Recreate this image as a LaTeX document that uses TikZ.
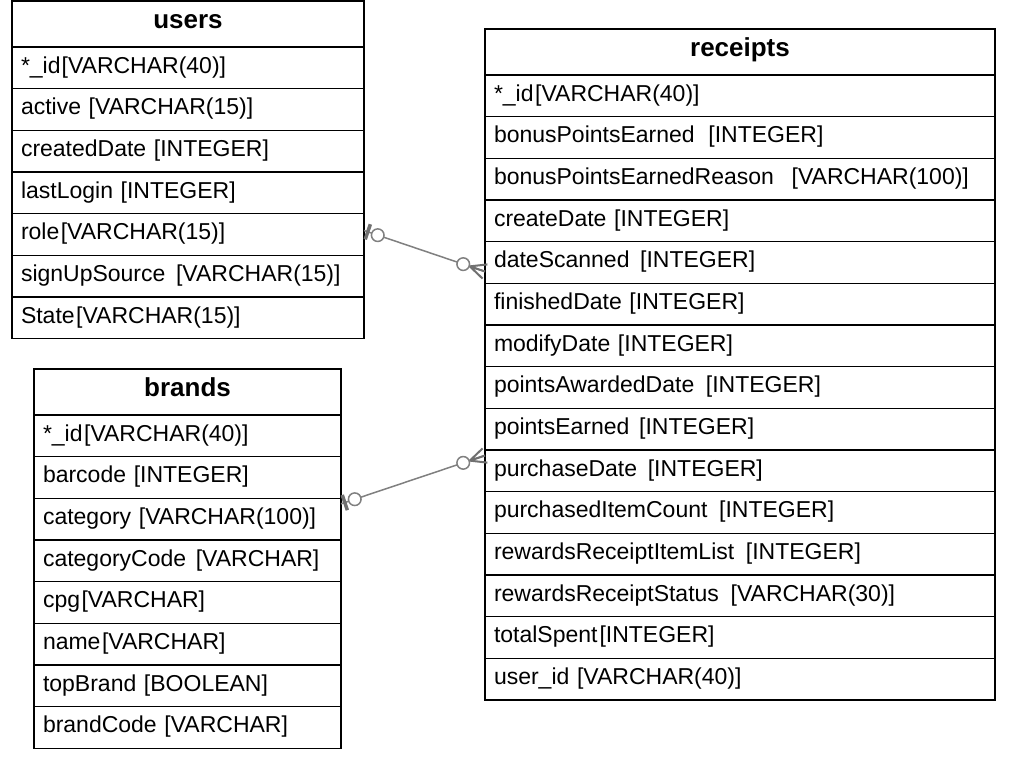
\documentclass[tikz,border=0pt]{standalone}
\usepackage{fontspec}
\setmainfont{Liberation Sans}
\usetikzlibrary{calc}
\definecolor{linkgray}{HTML}{808080}
\definecolor{bargray}{HTML}{707070}
\newcommand{\rowfnt}{\fontsize{23}{27}\selectfont}
\newcommand{\hdfnt}{\fontsize{26}{30}\selectfont\bfseries}
\newcommand{\gp}[1]{\hspace{#1pt}}
\newcommand{\erone}[2]{%
  \coordinate (tmpm) at ($(#1)!4pt!(#2)$);
  \draw[erbar] ($(tmpm)!8pt!90:(#2)$) -- ($(tmpm)!8pt!-90:(#2)$);
  \draw[conn, fill=white] ($(#1)!14.5pt!(#2)$) circle (6.3pt);}
\newcommand{\ermany}[2]{%
  \coordinate (tmpa) at ($(#1)!16pt!(#2)$);
  \draw[crow] (tmpa) -- ($(#1)!7.5pt!90:(#2)$) (tmpa) -- (#1) (tmpa) -- ($(#1)!7.5pt!-90:(#2)$);
  \draw[conn, fill=white] ($(#1)!23pt!(#2)$) circle (6.3pt);}
\begin{document}
\begin{tikzpicture}[x=1pt,y=-1pt,
  tbl/.style={draw=black, line width=1.5pt, outer sep=0pt, anchor=north west, inner xsep=9pt, inner ysep=0pt},
  hdr/.style={tbl, minimum height=46pt, text height=18pt, text depth=9pt, font=\hdfnt, align=center},
  fld/.style={tbl, minimum height=41.67pt, text height=16.5pt, text depth=6pt, font=\rowfnt, align=left},
  uw/.style={text width=334pt},
  bw/.style={text width=289pt},
  rw/.style={text width=492pt},
  conn/.style={draw=linkgray, line width=1.5pt},
  crow/.style={draw=bargray, line width=2pt},
  erbar/.style={draw=bargray, line width=3.5pt}]
\fill[white] (0,0) rectangle (1015,757);
\useasboundingbox (0,0) rectangle (1015,757);
% users
\node[hdr, uw] (users) at (12,1) {users};
\node[fld, uw] (u1) at (users.south west) {*\_id\gp{1}[VARCHAR(40)]};
\node[fld, uw] (u2) at (u1.south west) {active [VARCHAR(15)]};
\node[fld, uw] (u3) at (u2.south west) {createdDate [INTEGER]};
\node[fld, uw] (u4) at (u3.south west) {lastLogin [INTEGER]};
\node[fld, uw] (u5) at (u4.south west) {role\gp{1.5}[VARCHAR(15)]};
\node[fld, uw] (u6) at (u5.south west) {signUpSource \gp{3}[VARCHAR(15)]};
\node[fld, uw] (u7) at (u6.south west) {State\gp{1.5}[VARCHAR(15)]};
% brands
\node[hdr, bw] (brands) at (34,369) {brands};
\node[fld, bw] (b1) at (brands.south west) {*\_id\gp{1.5}[VARCHAR(40)]};
\node[fld, bw] (b2) at (b1.south west) {barcode [INTEGER]};
\node[fld, bw] (b3) at (b2.south west) {category [VARCHAR(100)]};
\node[fld, bw] (b4) at (b3.south west) {categoryCode \gp{2}[VARCHAR]};
\node[fld, bw] (b5) at (b4.south west) {cpg\gp{1.5}[VARCHAR]};
\node[fld, bw] (b6) at (b5.south west) {name\gp{1.5}[VARCHAR]};
\node[fld, bw] (b7) at (b6.south west) {topBrand [BOOLEAN]};
\node[fld, bw] (b8) at (b7.south west) {brandCode [VARCHAR]};
% receipts
\node[hdr, rw] (receipts) at (485,29) {receipts};
\node[fld, rw] (r1) at (receipts.south west) {*\_id\gp{1.5}[VARCHAR(40)]};
\node[fld, rw] (r2) at (r1.south west) {bonusPointsEarned \gp{6}[INTEGER]};
\node[fld, rw] (r3) at (r2.south west) {bonusPointsEarnedReason \gp{10}[VARCHAR(100)]};
\node[fld, rw] (r4) at (r3.south west) {createDate [INTEGER]};
\node[fld, rw] (r5) at (r4.south west) {dateScanned \gp{3}[INTEGER]};
\node[fld, rw] (r6) at (r5.south west) {finishedDate [INTEGER]};
\node[fld, rw] (r7) at (r6.south west) {modifyDate [INTEGER]};
\node[fld, rw] (r8) at (r7.south west) {pointsAwardedDate \gp{4}[INTEGER]};
\node[fld, rw] (r9) at (r8.south west) {pointsEarned \gp{2}[INTEGER]};
\node[fld, rw] (r10) at (r9.south west) {purchaseDate \gp{3}[INTEGER]};
\node[fld, rw] (r11) at (r10.south west) {purchasedItemCount \gp{4}[INTEGER]};
\node[fld, rw] (r12) at (r11.south west) {rewardsReceiptItemList \gp{4}[INTEGER]};
\node[fld, rw] (r13) at (r12.south west) {rewardsReceiptStatus \gp{4}[VARCHAR(30)]};
\node[fld, rw] (r14) at (r13.south west) {totalSpent\gp{2}[INTEGER]};
\node[fld, rw] (r15) at (r14.south west) {user\_id [VARCHAR(40)]};
% connectors
\coordinate (c1a) at ([yshift=4pt]u5.east);
\coordinate (c1b) at ([yshift=-9pt]r5.west);
\coordinate (c2a) at ([yshift=-5.5pt]b3.north east);
\coordinate (c2b) at ([yshift=-5.5pt]r10.north west);
\draw[conn] (c1a) -- (c1b);
\draw[conn] (c2a) -- (c2b);
\erone{c1a}{c1b}
\ermany{c1b}{c1a}
\erone{c2a}{c2b}
\ermany{c2b}{c2a}
\end{tikzpicture}
\end{document}
